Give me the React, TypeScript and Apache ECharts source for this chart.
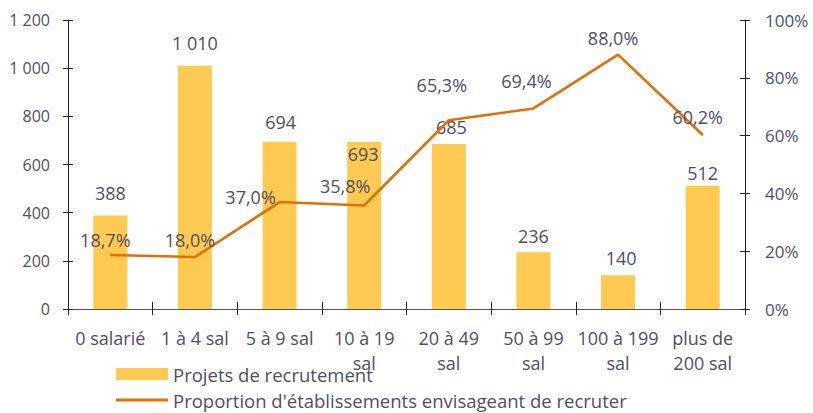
import React, { useEffect, useRef } from "react";
import * as echarts from "echarts";

const categories = [
  "0 salarié",
  "1 à 4 sal",
  "5 à 9 sal",
  "10 à 19\nsal",
  "20 à 49\nsal",
  "50 à 99\nsal",
  "100 à 199\nsal",
  "plus de\n200 sal",
];
const projets = [388, 1010, 694, 693, 685, 236, 140, 512];
const proportion = [18.7, 18.0, 37.0, 35.8, 65.3, 69.4, 88.0, 60.2];
const leftTicks = { min: 0, max: 1200, interval: 200 };
const rightTicks = { min: 0, max: 100, interval: 20 };

// label placement tweaks (style only)
const barLabelOffsets: [number, number][] = [
  [0, -14], [0, -14], [1, -11], [-1, 21], [2.5, -8], [0, -7], [3, -8], [0, -4],
];
const lineLabelOffsets: [number, number][] = [
  [-5, -15], [-5, -17], [-29, -5], [-19, -20], [-7, -35], [-7, -27], [-5, -17], [-5, -18],
];

const TEXT = "#4f4f60";
const FONT = "Open Sans";
const BAR = "#FFCA52";
const LINE = "#E07108";

const thousands = (v: number) => String(v).replace(/\B(?=(\d{3})+(?!\d))/g, " ");
const pct = (v: number) => v.toFixed(1).replace(".", ",") + "%";

export default function App() {
  const ref = useRef<HTMLDivElement>(null);
  useEffect(() => {
    document.body.style.margin = "0";
    if (!ref.current) return;
    const chart = echarts.init(ref.current, undefined, { renderer: "svg" });
    const yBase = (t: typeof leftTicks, pos: "left" | "right", show: boolean, fmt: (v: number) => string) => ({
      type: "value",
      position: pos,
      min: t.min,
      max: t.max,
      interval: t.interval,
      splitLine: { show: false },
      axisLine: { show: show, lineStyle: { color: "#222", width: 1 } },
      axisTick: { show: true, inside: !show, length: 5, lineStyle: { color: "#222" } },
      axisLabel: {
        show: show,
        formatter: fmt,
        color: TEXT,
        fontFamily: FONT,
        fontSize: pos === "left" ? 16 : 17,
        margin: pos === "left" ? 18 : 20,
      },
    });
    chart.setOption({
      animation: false,
      textStyle: { fontFamily: FONT },
      grid: { left: 68, right: 68, top: 20, bottom: 104 },
      legend: {
        orient: "vertical",
        left: 116,
        top: 364,
        padding: 0,
        itemWidth: 52,
        itemHeight: 12,
        itemGap: 6,
        textStyle: { color: TEXT, fontFamily: FONT, fontSize: 18.5, lineHeight: 20 },
        data: [
          { name: "Projets de recrutement", icon: "rect" },
          { name: "Proportion d'établissements envisageant de recruter", icon: "path://M0,5L52,5L52,8L0,8Z" },
        ],
      },
      xAxis: [
        {
          type: "category",
          data: categories,
          axisLine: { show: true, lineStyle: { color: "#555", width: 1 } },
          axisTick: { show: true, length: 6, lineStyle: { color: "#222" } },
          axisLabel: {
            color: TEXT,
            fontFamily: FONT,
            fontSize: 18,
            lineHeight: 25,
            margin: 16,
            interval: 0,
          },
        },
        {
          type: "category",
          data: categories,
          position: "bottom",
          axisLine: { show: false },
          axisTick: { show: true, inside: true, length: 7, lineStyle: { color: "#222" } },
          axisLabel: { show: false },
        },
      ],
      yAxis: [
        yBase(leftTicks, "left", true, thousands),
        yBase(rightTicks, "right", true, (v: number) => v + "%"),
        yBase(leftTicks, "left", false, thousands),
        yBase(rightTicks, "right", false, (v: number) => v + "%"),
      ],
      series: [
        {
          name: "Projets de recrutement",
          type: "bar",
          yAxisIndex: 0,
          barWidth: 34,
          itemStyle: { color: BAR },
          data: projets.map((v, i) => ({
            value: v,
            label: { offset: barLabelOffsets[i] },
          })),
          label: {
            show: true,
            position: "top",
            distance: 0,
            color: TEXT,
            fontFamily: FONT,
            fontSize: 18,
            formatter: (p: any) => thousands(p.value),
          },
          z: 2,
        },
        {
          name: "Proportion d'établissements envisageant de recruter",
          type: "line",
          yAxisIndex: 1,
          symbol: "circle",
          symbolSize: 1,
          showSymbol: true,
          lineStyle: { color: LINE, width: 2.6 },
          itemStyle: { color: LINE },
          data: proportion.map((v, i) => ({
            value: v,
            label: { offset: lineLabelOffsets[i] },
          })),
          label: {
            show: true,
            position: "inside",
            color: TEXT,
            fontFamily: FONT,
            fontSize: 18,
            formatter: (p: any) => pct(p.value),
          },
          z: 3,
        },
      ],
    });
    return () => chart.dispose();
  }, []);
  return <div ref={ref} style={{ width: 813, height: 413 }} />;
}
